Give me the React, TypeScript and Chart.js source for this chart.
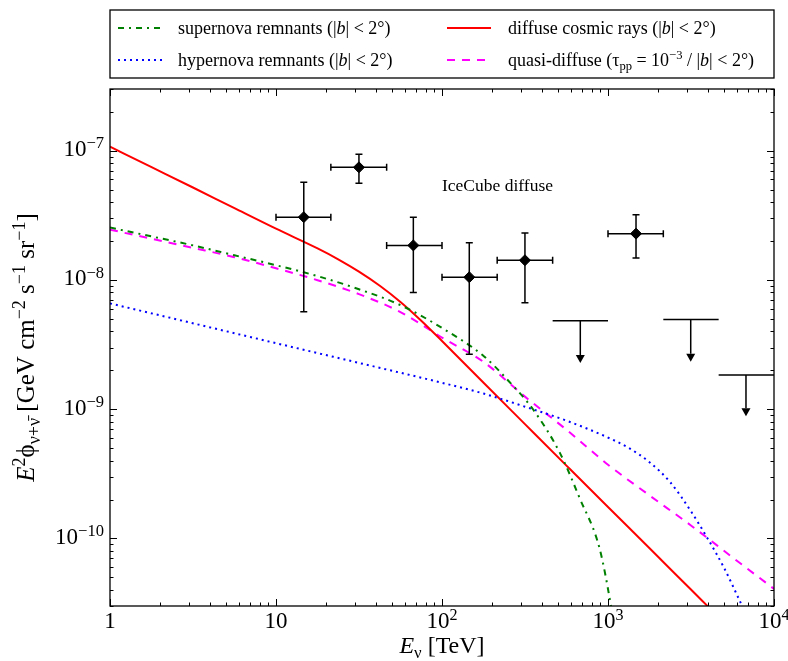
import React, { useEffect, useRef } from 'react';
import { Chart, registerables } from 'chart.js';

Chart.register(...registerables);

const FONT = '"Liberation Serif", "DejaVu Serif", serif';

// ---- model curves (E in TeV, E^2 phi in GeV cm^-2 s^-1 sr^-1) ----
const snrX = [1, 1.78, 3.16, 5.62, 10, 17.8, 31.6, 56.2, 100, 178, 251, 355, 513, 676, 891, 1042, 1122];
const snrY = [2.54e-8, 2.17e-8, 1.85e-8, 1.55e-8, 1.3e-8, 1.07e-8, 8.47e-9, 6.38e-9, 4.25e-9, 2.58e-9, 1.66e-9, 9.89e-10, 4.59e-10, 2.04e-10, 8.3e-11, 3.0e-11, 1.6e-11];

const hnrX = [1, 3.16, 10, 31.6, 100, 178, 316, 562, 1000, 1334, 1778, 2371, 3162, 3981, 5012, 6310];
const hnrY = [6.58e-9, 4.62e-9, 3.24e-9, 2.28e-9, 1.6e-9, 1.32e-9, 1.045e-9, 8.15e-10, 6.03e-10, 5.01e-10, 3.89e-10, 2.72e-10, 1.62e-10, 1.0e-10, 5.89e-11, 3.16e-11];

const crX = [1, 1.78, 3.16, 5.62, 10, 17.8, 23.7, 31.6, 42.2, 56.2, 75, 100, 178, 316, 562, 1000, 1780, 3160, 10000];
const crY = [1.074e-7, 7.46e-8, 5.19e-8, 3.59e-8, 2.49e-8, 1.754e-8, 1.445e-8, 1.16e-8, 9.02e-9, 6.76e-9, 4.84e-9, 3.37e-9, 1.6e-9, 7.66e-10, 3.66e-10, 1.75e-10, 8.39e-11, 4.02e-11, 9.2e-12];

const qdX = [1, 1.78, 3.16, 5.62, 10, 17.8, 31.6, 56.2, 100, 178, 316, 562, 1000, 1780, 3160, 5620, 10000];
const qdY = [2.45e-8, 2.08e-8, 1.77e-8, 1.5e-8, 1.23e-8, 9.95e-9, 7.76e-9, 5.64e-9, 3.58e-9, 2.32e-9, 1.25e-9, 6.93e-10, 3.72e-10, 2.15e-10, 1.26e-10, 7.14e-11, 4.07e-11];

// ---- IceCube diffuse data points ----
const icX = [14.7, 31.6, 67.2, 146, 316, 1475];
const icY = [3.06e-8, 7.43e-8, 1.85e-8, 1.05e-8, 1.42e-8, 2.28e-8];
const icXlo = [10, 21.4, 46.4, 100, 215, 1000];
const icXhi = [21.4, 46.4, 100, 215, 464, 2154];
const icYlo = [5.67e-9, 5.6e-8, 8.0e-9, 2.66e-9, 6.65e-9, 1.48e-8];
const icYhi = [5.7e-8, 9.4e-8, 3.06e-8, 1.94e-8, 2.31e-8, 3.19e-8];

// ---- IceCube upper limits ----
const ulX = [681, 3150, 6780];
const ulY = [4.83e-9, 4.93e-9, 1.84e-9];
const ulXlo = [464, 2154, 4640];
const ulXhi = [1000, 4640, 10000];
const ulTip = [2.28e-9, 2.33e-9, 8.8e-10];

// ---- axes ----
const xMin = 1, xMax = 1e4;
const yMin = 3e-11, yMax = 3e-7;
const xTickValues = [1, 10, 100, 1000, 10000];
const xTickBase = ['1', '10', '10', '10', '10'];
const xTickExp = ['', '', '2', '3', '4'];
const yTickValues = [1e-10, 1e-9, 1e-8, 1e-7];
const yTickBase = ['10', '10', '10', '10'];
const yTickExp = ['−10', '−9', '−8', '−7'];

type Seg = { t: string; s?: 'i' | 'sup' | 'sub' };

const legendLabels: Seg[][] = [
  [{ t: 'supernova remnants (' }, { t: '|' }, { t: 'b', s: 'i' }, { t: '| < 2°)' }],
  [{ t: 'hypernova remnants (' }, { t: '|' }, { t: 'b', s: 'i' }, { t: '| < 2°)' }],
  [{ t: 'diffuse cosmic rays (' }, { t: '|' }, { t: 'b', s: 'i' }, { t: '| < 2°)' }],
  [{ t: 'quasi-diffuse (τ' }, { t: 'pp', s: 'sub' }, { t: ' = 10' }, { t: '−3', s: 'sup' }, { t: ' / |' }, { t: 'b', s: 'i' }, { t: '| < 2°)' }],
];

const yTitle: Seg[] = [
  { t: 'E', s: 'i' }, { t: '2', s: 'sup' }, { t: 'ϕ' }, { t: 'ν+ν̄', s: 'sub' },
  { t: ' [GeV cm' }, { t: '−2', s: 'sup' }, { t: ' s' }, { t: '−1', s: 'sup' }, { t: ' sr' }, { t: '−1', s: 'sup' }, { t: ']' },
];
const xTitle: Seg[] = [{ t: 'E', s: 'i' }, { t: 'ν', s: 'sub' }, { t: ' [TeV]' }];
const annotation = 'IceCube diffuse';

function fontFor(size: number, s?: string, sc = 0.7) {
  const sz = s === 'sup' || s === 'sub' ? size * sc : size;
  const st = s === 'i' ? 'italic ' : '';
  return `${st}${sz}px ${FONT}`;
}
function richWidth(ctx: CanvasRenderingContext2D, segs: Seg[], size: number, sc: number) {
  let w = 0;
  for (const g of segs) {
    ctx.font = fontFor(size, g.s, sc);
    w += ctx.measureText(g.t).width;
  }
  return w;
}
function drawRich(
  ctx: CanvasRenderingContext2D, segs: Seg[], x: number, y: number, size: number,
  align: 'left' | 'center' | 'right', sc = 0.7, supRaise = 0.4,
) {
  const w = richWidth(ctx, segs, size, sc);
  let cx = align === 'left' ? x : align === 'center' ? x - w / 2 : x - w;
  ctx.textAlign = 'left';
  ctx.textBaseline = 'alphabetic';
  for (const g of segs) {
    ctx.font = fontFor(size, g.s, sc);
    const dy = g.s === 'sup' ? -size * supRaise : g.s === 'sub' ? size * 0.22 : 0;
    ctx.fillText(g.t, cx, y + dy);
    cx += ctx.measureText(g.t).width;
  }
}

const pts = (xs: number[], ys: number[]) => xs.map((x, i) => ({ x, y: ys[i] }));

const framePlugin = {
  id: 'frameTicks',
  afterDraw(chart: any) {
    const { ctx, chartArea: a, scales } = chart;
    const xs = scales.x, ys = scales.y;
    ctx.save();
    ctx.strokeStyle = '#000';
    ctx.lineWidth = 1;
    const maj = 7, min = 3.5;
    for (let d = 1; d <= 10000; d *= 10) {
      for (let m = 1; m <= 9; m++) {
        const v = d * m;
        if (v < xMin || v > xMax) continue;
        const px = Math.round(xs.getPixelForValue(v)) + 0.5;
        const L = m === 1 ? maj : min;
        ctx.beginPath();
        ctx.moveTo(px, a.bottom); ctx.lineTo(px, a.bottom - L);
        ctx.moveTo(px, a.top); ctx.lineTo(px, a.top + L);
        ctx.stroke();
      }
    }
    for (let e = -11; e <= -7; e++) {
      for (let m = 1; m <= 9; m++) {
        const v = m * Math.pow(10, e);
        if (v < yMin || v > yMax) continue;
        const py = Math.round(ys.getPixelForValue(v)) + 0.5;
        const L = m === 1 ? maj : min;
        ctx.beginPath();
        ctx.moveTo(a.left, py); ctx.lineTo(a.left + L, py);
        ctx.moveTo(a.right, py); ctx.lineTo(a.right - L, py);
        ctx.stroke();
      }
    }
    ctx.lineWidth = 1.3;
    ctx.strokeRect(a.left, a.top, a.right - a.left, a.bottom - a.top);

    ctx.fillStyle = '#000';
    xTickValues.forEach((v, i) => {
      const px = xs.getPixelForValue(v);
      const segs: Seg[] = [{ t: xTickBase[i] }];
      if (xTickExp[i]) segs.push({ t: xTickExp[i], s: 'sup' });
      drawRich(ctx, segs, px, 628, 23, 'center', 0.7, 0.36);
    });
    yTickValues.forEach((v, i) => {
      const py = ys.getPixelForValue(v);
      drawRich(ctx, [{ t: yTickBase[i] }, { t: yTickExp[i], s: 'sup' }], 104, py + 5.5, 23, 'right', 0.72, 0.34);
    });
    drawRich(ctx, xTitle, (a.left + a.right) / 2, 653, 24, 'center');
    ctx.save();
    ctx.translate(34, (a.top + a.bottom) / 2);
    ctx.rotate(-Math.PI / 2);
    drawRich(ctx, yTitle, 0, 0, 25, 'center', 0.72, 0.38);
    ctx.restore();

    ctx.font = `17.5px ${FONT}`;
    ctx.textAlign = 'left';
    ctx.textBaseline = 'alphabetic';
    ctx.fillText(annotation, xs.getPixelForValue(100), ys.getPixelForValue(4.9e-8));

    const bx = a.left, by = 10, bw = a.right - a.left, bh = 68;
    ctx.fillStyle = '#fff';
    ctx.fillRect(bx, by, bw, bh);
    ctx.lineWidth = 1.3;
    ctx.strokeStyle = '#000';
    ctx.strokeRect(bx, by, bw, bh);
    const rows = [28, 60];
    const cols = [{ s: 118, e: 162, t: 178 }, { s: 447, e: 491, t: 508 }];
    chart.data.datasets.forEach((ds: any, i: number) => {
      if (i > 3) return;
      const col = cols[Math.floor(i / 2)];
      const ry = rows[i % 2];
      ctx.save();
      ctx.strokeStyle = ds.borderColor;
      ctx.lineWidth = ds.borderWidth;
      ctx.setLineDash(ds.borderDash || []);
      ctx.beginPath();
      ctx.moveTo(col.s, ry); ctx.lineTo(col.e, ry);
      ctx.stroke();
      ctx.restore();
      ctx.fillStyle = '#000';
      drawRich(ctx, legendLabels[i], col.t, ry + 6, 18, 'left');
    });
    ctx.restore();
  },
};

const errorBarPlugin = {
  id: 'errbars',
  afterDatasetsDraw(chart: any) {
    const { ctx, chartArea: a, scales } = chart;
    const xs = scales.x, ys = scales.y;
    ctx.save();
    ctx.beginPath();
    ctx.rect(a.left, a.top, a.right - a.left, a.bottom - a.top);
    ctx.clip();
    ctx.strokeStyle = '#000';
    ctx.fillStyle = '#000';
    ctx.lineWidth = 1.5;
    const cap = 3.5;
    for (let i = 0; i < icX.length; i++) {
      const px = xs.getPixelForValue(icX[i]);
      const py = ys.getPixelForValue(icY[i]);
      const x0 = xs.getPixelForValue(icXlo[i]);
      const x1 = xs.getPixelForValue(icXhi[i]);
      const y0 = ys.getPixelForValue(icYlo[i]);
      const y1 = ys.getPixelForValue(icYhi[i]);
      ctx.beginPath();
      ctx.moveTo(x0, py); ctx.lineTo(x1, py);
      ctx.moveTo(px, y0); ctx.lineTo(px, y1);
      ctx.moveTo(x0, py - cap); ctx.lineTo(x0, py + cap);
      ctx.moveTo(x1, py - cap); ctx.lineTo(x1, py + cap);
      ctx.moveTo(px - cap, y0); ctx.lineTo(px + cap, y0);
      ctx.moveTo(px - cap, y1); ctx.lineTo(px + cap, y1);
      ctx.stroke();
    }
    for (let i = 0; i < ulX.length; i++) {
      const px = xs.getPixelForValue(ulX[i]);
      const py = ys.getPixelForValue(ulY[i]);
      const x0 = xs.getPixelForValue(ulXlo[i]);
      const x1 = xs.getPixelForValue(ulXhi[i]);
      const tip = ys.getPixelForValue(ulTip[i]);
      const head = 8, hw = 4.5;
      ctx.beginPath();
      ctx.moveTo(x0, py); ctx.lineTo(x1, py);
      ctx.moveTo(px, py); ctx.lineTo(px, tip - head);
      ctx.stroke();
      ctx.beginPath();
      ctx.moveTo(px - hw, tip - head);
      ctx.lineTo(px + hw, tip - head);
      ctx.lineTo(px, tip);
      ctx.closePath();
      ctx.fill();
    }
    ctx.restore();
  },
};

export default function App() {
  const ref = useRef<HTMLCanvasElement>(null);
  useEffect(() => {
    if (!ref.current) return;
    const lineBase = { showLine: true, pointRadius: 0, fill: false, cubicInterpolationMode: 'monotone' as const, clip: 0 };
    const chart = new Chart(ref.current, {
      type: 'scatter',
      data: {
        datasets: [
          { ...lineBase, label: 'supernova remnants', data: pts(snrX, snrY), borderColor: '#008000', borderWidth: 2, borderDash: [6, 5, 2, 5] },
          { ...lineBase, label: 'hypernova remnants', data: pts(hnrX, hnrY), borderColor: '#0000ff', borderWidth: 2, borderDash: [2, 4] },
          { ...lineBase, label: 'diffuse cosmic rays', data: pts(crX, crY), borderColor: '#ff0000', borderWidth: 2 },
          { ...lineBase, label: 'quasi-diffuse', data: pts(qdX, qdY), borderColor: '#ff00ff', borderWidth: 2, borderDash: [8, 7] },
          {
            label: 'IceCube diffuse',
            data: pts(icX, icY),
            showLine: false,
            pointStyle: 'rectRot',
            pointRadius: 5.5,
            backgroundColor: '#000',
            borderColor: '#000',
            borderWidth: 1,
          },
        ] as any,
      },
      options: {
        animation: false,
        responsive: true,
        maintainAspectRatio: false,
        layout: { padding: { left: 110, right: 14, top: 89, bottom: 55 } },
        plugins: { legend: { display: false }, tooltip: { enabled: false } },
        events: [],
        scales: {
          x: { type: 'logarithmic', min: xMin, max: xMax, display: false },
          y: { type: 'logarithmic', min: yMin, max: yMax, display: false },
        },
      } as any,
      plugins: [errorBarPlugin, framePlugin],
    });
    return () => chart.destroy();
  }, []);
  return (
    <div style={{ position: 'absolute', left: 0, top: 0, width: 788, height: 661, background: '#fff' }}>
      <canvas ref={ref} />
    </div>
  );
}
